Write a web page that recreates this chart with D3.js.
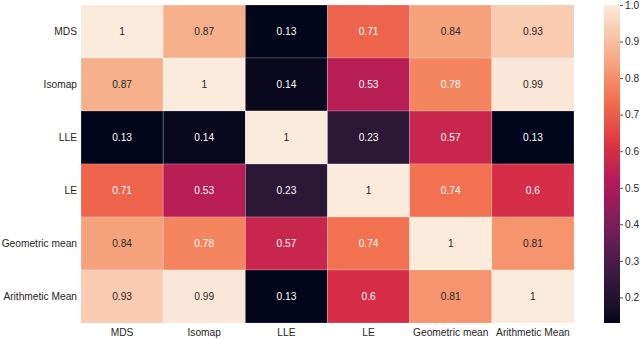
<!DOCTYPE html>
<html>
<head>
<meta charset="utf-8">
<script src="https://cdn.jsdelivr.net/npm/d3@7"></script>
<style>
  html, body { margin: 0; padding: 0; background: #fff; }
  svg { display: block; font-family: "Liberation Sans", Arial, sans-serif; }
</style>
</head>
<body>
<div id="chart"></div>
<script>
// row / column labels
const methods = ["MDS", "Isomap", "LLE", "LE", "Geometric mean", "Arithmetic Mean"];

// correlation matrix, one array per row
const rowMDS = [1, 0.87, 0.13, 0.71, 0.84, 0.93];
const rowIsomap = [0.87, 1, 0.14, 0.53, 0.78, 0.99];
const rowLLE = [0.13, 0.14, 1, 0.23, 0.57, 0.13];
const rowLE = [0.71, 0.53, 0.23, 1, 0.74, 0.6];
const rowGeo = [0.84, 0.78, 0.57, 0.74, 1, 0.81];
const rowArith = [0.93, 0.99, 0.13, 0.6, 0.81, 1];

const colorbarTicks = [0.2, 0.3, 0.4, 0.5, 0.6, 0.7, 0.8, 0.9, 1.0];

const matrix = [rowMDS, rowIsomap, rowLLE, rowLE, rowGeo, rowArith];

const width = 640, height = 339;
const heat = {left: 81, right: 574, top: 5, bottom: 323};
const cbar = {left: 604, right: 620};
const fontSize = 10.2;

// approximation of seaborn "rocket"
const rocketStops = ["#03051a", "#35193e", "#701f57", "#ad1759", "#e13342", "#f37651", "#f6b48f", "#faebdd"];
const rocket = d3.piecewise(d3.interpolateLab, rocketStops);

const all = matrix.flat();
const vmin = d3.min(all), vmax = d3.max(all);
const color = d3.scaleSequential(rocket).domain([vmin, vmax]);

const svg = d3.select("#chart").append("svg")
    .attr("width", width)
    .attr("height", height)
    .attr("viewBox", [0, 0, width, height]);

const x = d3.scaleBand().domain(methods).range([heat.left, heat.right]);
const y = d3.scaleBand().domain(methods).range([heat.top, heat.bottom]);

const cells = [];
matrix.forEach((row, i) => row.forEach((v, j) => cells.push({r: methods[i], c: methods[j], v})));

// relative luminance, same rule as seaborn for picking the annotation colour
function lum(c) {
  const rgb = d3.rgb(c);
  const f = u => { u /= 255; return u <= 0.03928 ? u / 12.92 : Math.pow((u + 0.055) / 1.055, 2.4); };
  return 0.2126 * f(rgb.r) + 0.7152 * f(rgb.g) + 0.0722 * f(rgb.b);
}

svg.append("g")
  .selectAll("rect")
  .data(cells)
  .join("rect")
    .attr("x", d => x(d.c))
    .attr("y", d => y(d.r))
    .attr("width", x.bandwidth())
    .attr("height", y.bandwidth())
    .attr("fill", d => color(d.v))
    .attr("stroke", "rgba(255,255,255,0.35)")
    .attr("stroke-width", 0.6);

svg.append("g")
  .selectAll("text")
  .data(cells)
  .join("text")
    .attr("x", d => x(d.c) + x.bandwidth() / 2)
    .attr("y", d => y(d.r) + y.bandwidth() / 2)
    .attr("dy", "0.35em")
    .attr("text-anchor", "middle")
    .attr("font-size", fontSize)
    .attr("fill", d => lum(color(d.v)) > 0.408 ? "#262626" : "#ffffff")
    .text(d => d3.format("")(d.v));

// row labels
svg.append("g")
  .selectAll("text")
  .data(methods)
  .join("text")
    .attr("x", heat.left - 4)
    .attr("y", d => y(d) + y.bandwidth() / 2)
    .attr("dy", "0.35em")
    .attr("text-anchor", "end")
    .attr("font-size", fontSize)
    .attr("fill", "#262626")
    .text(d => d);

// column labels
svg.append("g")
  .selectAll("text")
  .data(methods)
  .join("text")
    .attr("x", d => x(d) + x.bandwidth() / 2)
    .attr("y", heat.bottom + 13)
    .attr("text-anchor", "middle")
    .attr("font-size", fontSize)
    .attr("fill", "#262626")
    .text(d => d);

// colour bar
const cy = d3.scaleLinear().domain([vmin, vmax]).range([heat.bottom, heat.top]);
const grad = svg.append("defs").append("linearGradient")
    .attr("id", "cbar")
    .attr("x1", 0).attr("x2", 0).attr("y1", 1).attr("y2", 0);
d3.range(0, 1.0001, 0.05).forEach(t => {
  grad.append("stop")
    .attr("offset", t)
    .attr("stop-color", rocket(t));
});
svg.append("rect")
    .attr("x", cbar.left)
    .attr("y", heat.top)
    .attr("width", cbar.right - cbar.left)
    .attr("height", heat.bottom - heat.top)
    .attr("fill", "url(#cbar)");

const axis = svg.append("g")
    .attr("transform", `translate(${cbar.right},0)`)
    .call(d3.axisRight(cy).tickValues(colorbarTicks).tickFormat(d3.format(".1f")).tickSize(3).tickPadding(2));
axis.select(".domain").remove();
axis.selectAll("line").attr("stroke", "#262626").attr("stroke-width", 0.8);
axis.selectAll("text")
    .attr("font-size", fontSize)
    .attr("font-family", "Liberation Sans, Arial, sans-serif")
    .attr("fill", "#262626");
</script>
</body>
</html>
